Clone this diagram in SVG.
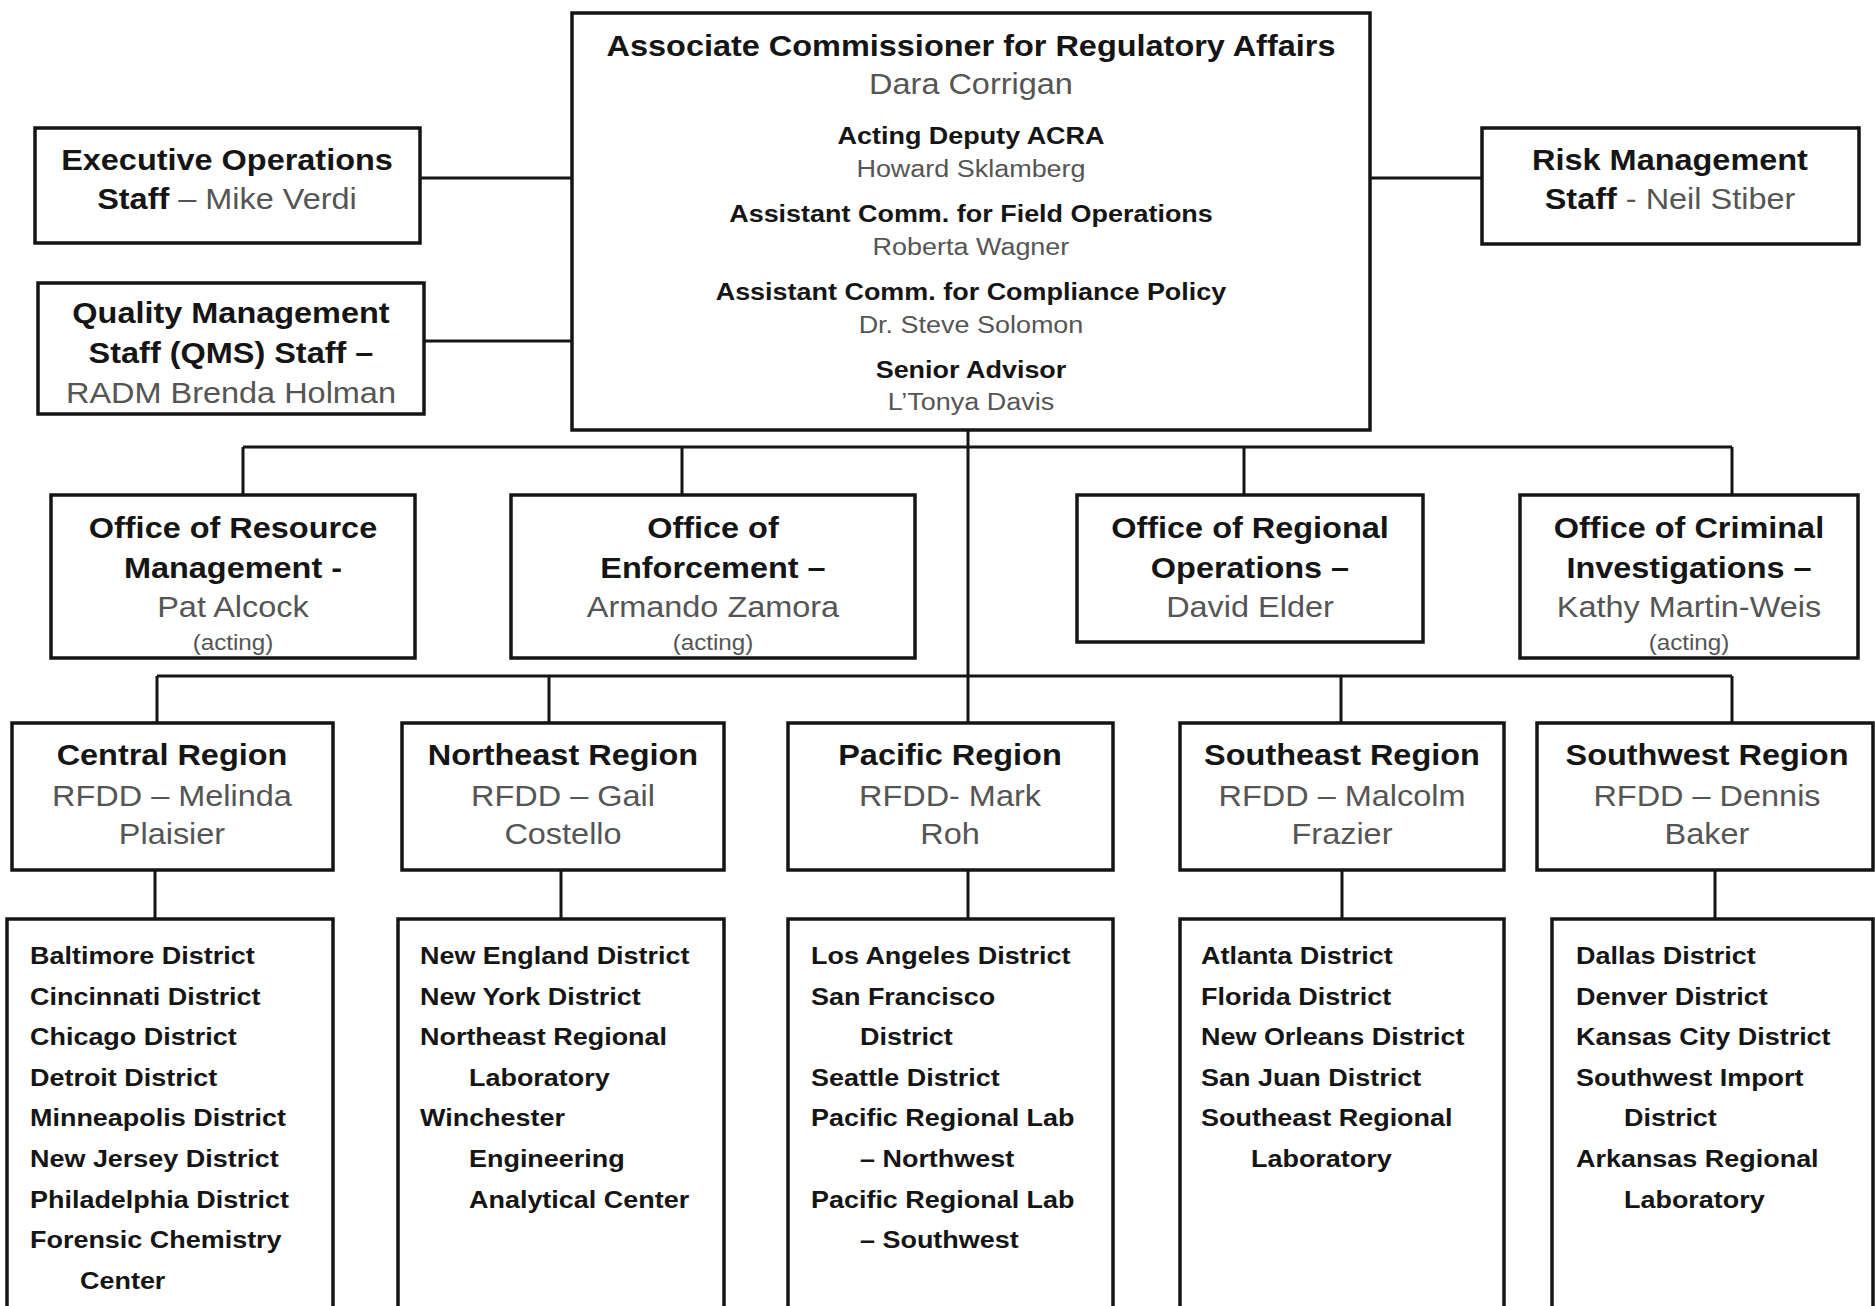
<svg xmlns="http://www.w3.org/2000/svg" width="1875" height="1306" viewBox="0 0 1875 1306">
<style>
  .box{fill:#fff;stroke:#151515;stroke-width:3.5}
  .ln{fill:none;stroke:#151515;stroke-width:3}
  text{font-family:"Liberation Sans",Arial,sans-serif;transform-box:fill-box;transform:scaleX(1.1)}
  .c{text-anchor:middle;transform-origin:50% 50%}
  .l{text-anchor:start;transform-origin:0 50%}
  .h{font-weight:bold;fill:#151515;font-size:29.5px}
  .n{fill:#555;font-size:29.5px}
  .hs{font-weight:bold;fill:#151515;font-size:24.5px}
  .ns{fill:#555;font-size:24.5px}
  .a{fill:#555;font-size:22px}
  .d{font-weight:bold;fill:#151515;font-size:24.5px}
  .b{font-weight:bold;fill:#151515}
  .g{font-weight:normal;fill:#555}
</style>
<rect width="1875" height="1306" fill="#fff"/>
<g id="connectors">
  <path class="ln" d="M420 178H572M424 341H572M1370 178H1482"/>
  <path class="ln" d="M968 430V723"/>
  <path class="ln" d="M243 447H1732M243 447V495M682 447V495M1244 447V495M1732 447V495"/>
  <path class="ln" d="M157 676H1732M157 676V723M549 676V723M1341 676V723M1732 676V723"/>
  <path class="ln" d="M155 870V919M561 870V919M968 870V919M1342 870V919M1715 870V919"/>
</g>
<g id="acra">
  <rect class="box" x="572" y="13" width="798" height="417"/>
  <text class="c h" x="971" y="56">Associate Commissioner for Regulatory Affairs</text>
  <text class="c n" x="971" y="94">Dara Corrigan</text>
  <text class="c hs" x="971" y="144">Acting Deputy ACRA</text>
  <text class="c ns" x="971" y="177">Howard Sklamberg</text>
  <text class="c hs" x="971" y="222">Assistant Comm. for Field Operations</text>
  <text class="c ns" x="971" y="255">Roberta Wagner</text>
  <text class="c hs" x="971" y="300">Assistant Comm. for Compliance Policy</text>
  <text class="c ns" x="971" y="333">Dr. Steve Solomon</text>
  <text class="c hs" x="971" y="378">Senior Advisor</text>
  <text class="c ns" x="971" y="410">L’Tonya Davis</text>
</g>
<g id="exec-ops">
  <rect class="box" x="35" y="128" width="385" height="115"/>
  <text class="c h" x="227" y="170">Executive Operations</text>
  <text class="c h" x="227" y="209"><tspan class="b">Staff</tspan><tspan class="g"> – Mike Verdi</tspan></text>
</g>
<g id="qms">
  <rect class="box" x="38" y="283" width="386" height="131"/>
  <text class="c h" x="231" y="323">Quality Management</text>
  <text class="c h" x="231" y="363">Staff (QMS) Staff –</text>
  <text class="c n" x="231" y="403">RADM Brenda Holman</text>
</g>
<g id="risk-mgmt">
  <rect class="box" x="1482" y="128" width="377" height="116"/>
  <text class="c h" x="1670" y="170">Risk Management</text>
  <text class="c h" x="1670" y="209"><tspan class="b">Staff</tspan><tspan class="g"> - Neil Stiber</tspan></text>
</g>
<g id="orm">
  <rect class="box" x="51" y="495" width="364" height="163"/>
  <text class="c h" x="233" y="538">Office of Resource</text>
  <text class="c h" x="233" y="578">Management -</text>
  <text class="c n" x="233" y="617">Pat Alcock</text>
  <text class="c a" x="233" y="650">(acting)</text>
</g>
<g id="oe">
  <rect class="box" x="511" y="495" width="404" height="163"/>
  <text class="c h" x="713" y="538">Office of</text>
  <text class="c h" x="713" y="578">Enforcement –</text>
  <text class="c n" x="713" y="617">Armando Zamora</text>
  <text class="c a" x="713" y="650">(acting)</text>
</g>
<g id="oro">
  <rect class="box" x="1077" y="495" width="346" height="147"/>
  <text class="c h" x="1250" y="538">Office of Regional</text>
  <text class="c h" x="1250" y="578">Operations –</text>
  <text class="c n" x="1250" y="617">David Elder</text>
</g>
<g id="oci">
  <rect class="box" x="1520" y="495" width="338" height="163"/>
  <text class="c h" x="1689" y="538">Office of Criminal</text>
  <text class="c h" x="1689" y="578">Investigations –</text>
  <text class="c n" x="1689" y="617">Kathy Martin-Weis</text>
  <text class="c a" x="1689" y="650">(acting)</text>
</g>
<g id="central-region">
  <rect class="box" x="12" y="723" width="321" height="147"/>
  <text class="c h" x="172" y="765">Central Region</text>
  <text class="c n" x="172" y="806">RFDD – Melinda</text>
  <text class="c n" x="172" y="844">Plaisier</text>
</g>
<g id="northeast-region">
  <rect class="box" x="402" y="723" width="322" height="147"/>
  <text class="c h" x="563" y="765">Northeast Region</text>
  <text class="c n" x="563" y="806">RFDD – Gail</text>
  <text class="c n" x="563" y="844">Costello</text>
</g>
<g id="pacific-region">
  <rect class="box" x="788" y="723" width="325" height="147"/>
  <text class="c h" x="950" y="765">Pacific Region</text>
  <text class="c n" x="950" y="806">RFDD- Mark</text>
  <text class="c n" x="950" y="844">Roh</text>
</g>
<g id="southeast-region">
  <rect class="box" x="1180" y="723" width="324" height="147"/>
  <text class="c h" x="1342" y="765">Southeast Region</text>
  <text class="c n" x="1342" y="806">RFDD – Malcolm</text>
  <text class="c n" x="1342" y="844">Frazier</text>
</g>
<g id="southwest-region">
  <rect class="box" x="1537" y="723" width="336" height="147"/>
  <text class="c h" x="1707" y="765">Southwest Region</text>
  <text class="c n" x="1707" y="806">RFDD – Dennis</text>
  <text class="c n" x="1707" y="844">Baker</text>
</g>
<g id="central-districts">
  <rect class="box" x="7" y="919" width="326" height="410"/>
  <text class="l d" x="30" y="964">Baltimore District</text>
  <text class="l d" x="30" y="1005">Cincinnati District</text>
  <text class="l d" x="30" y="1045">Chicago District</text>
  <text class="l d" x="30" y="1086">Detroit District</text>
  <text class="l d" x="30" y="1126">Minneapolis District</text>
  <text class="l d" x="30" y="1167">New Jersey District</text>
  <text class="l d" x="30" y="1208">Philadelphia District</text>
  <text class="l d" x="30" y="1248">Forensic Chemistry</text>
  <text class="l d" x="80" y="1289">Center</text>
</g>
<g id="northeast-districts">
  <rect class="box" x="398" y="919" width="326" height="410"/>
  <text class="l d" x="420" y="964">New England District</text>
  <text class="l d" x="420" y="1005">New York District</text>
  <text class="l d" x="420" y="1045">Northeast Regional</text>
  <text class="l d" x="469" y="1086">Laboratory</text>
  <text class="l d" x="420" y="1126">Winchester</text>
  <text class="l d" x="469" y="1167">Engineering</text>
  <text class="l d" x="469" y="1208">Analytical Center</text>
</g>
<g id="pacific-districts">
  <rect class="box" x="788" y="919" width="325" height="410"/>
  <text class="l d" x="811" y="964">Los Angeles District</text>
  <text class="l d" x="811" y="1005">San Francisco</text>
  <text class="l d" x="860" y="1045">District</text>
  <text class="l d" x="811" y="1086">Seattle District</text>
  <text class="l d" x="811" y="1126">Pacific Regional Lab</text>
  <text class="l d" x="860" y="1167">– Northwest</text>
  <text class="l d" x="811" y="1208">Pacific Regional Lab</text>
  <text class="l d" x="860" y="1248">– Southwest</text>
</g>
<g id="southeast-districts">
  <rect class="box" x="1180" y="919" width="324" height="410"/>
  <text class="l d" x="1201" y="964">Atlanta District</text>
  <text class="l d" x="1201" y="1005">Florida District</text>
  <text class="l d" x="1201" y="1045">New Orleans District</text>
  <text class="l d" x="1201" y="1086">San Juan District</text>
  <text class="l d" x="1201" y="1126">Southeast Regional</text>
  <text class="l d" x="1251" y="1167">Laboratory</text>
</g>
<g id="southwest-districts">
  <rect class="box" x="1552" y="919" width="321" height="410"/>
  <text class="l d" x="1576" y="964">Dallas District</text>
  <text class="l d" x="1576" y="1005">Denver District</text>
  <text class="l d" x="1576" y="1045">Kansas City District</text>
  <text class="l d" x="1576" y="1086">Southwest Import</text>
  <text class="l d" x="1624" y="1126">District</text>
  <text class="l d" x="1576" y="1167">Arkansas Regional</text>
  <text class="l d" x="1624" y="1208">Laboratory</text>
</g>
</svg>
